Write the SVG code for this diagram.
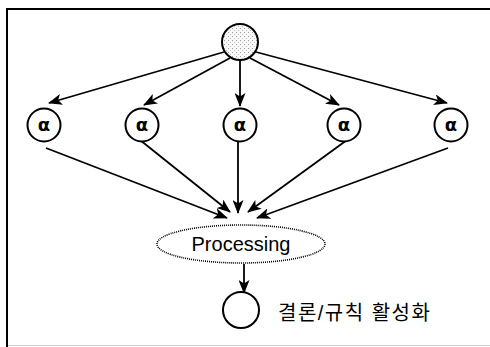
<svg xmlns="http://www.w3.org/2000/svg" width="490" height="347" viewBox="0 0 490 347">
  <style>
    .node { fill: #fff; stroke: #000; stroke-width: 2; }
    .alpha { font-family: "DejaVu Sans", "Liberation Sans", sans-serif; font-size: 18px; font-weight: bold; text-anchor: middle; fill: #000; }
    .edge { stroke: #000; stroke-width: 1.8; fill: none; marker-end: url(#arrow); }
    .label { font-family: "Liberation Sans", Arial, sans-serif; font-size: 20px; fill: #000; }
    .klabel { font-family: "Liberation Sans", "Noto Sans CJK KR", sans-serif; font-size: 20px; letter-spacing: 1.5px; fill: #000; }
  </style>
  <defs>
    <marker id="arrow" viewBox="0 0 14 11" refX="13" refY="5.5" markerWidth="14" markerHeight="11" markerUnits="userSpaceOnUse" orient="auto">
      <path d="M0,0 L14,5.5 L0,11 L3.5,5.5 z" fill="#000"/>
    </marker>
    <pattern id="stipple" width="4" height="4" patternUnits="userSpaceOnUse">
      <rect width="4" height="4" fill="#f8f8f8"/>
      <rect x="0" y="0" width="1" height="1" fill="#999"/>
      <rect x="2" y="2" width="1" height="1" fill="#c4c4c4"/>
    </pattern>
  </defs>

  <!-- frame -->
  <g id="frame">
    <line x1="6" y1="9" x2="490" y2="9" stroke="#000" stroke-width="2"/>
    <line x1="7" y1="10" x2="7" y2="347" stroke="#000" stroke-width="2"/>
    <line x1="8" y1="345.5" x2="490" y2="345.5" stroke="#d0d0d0" stroke-width="1"/>
  </g>

  <!-- connectors -->
  <g id="connectors">
    <line class="edge" x1="224" y1="52" x2="49" y2="103"/>
    <line class="edge" x1="230" y1="58" x2="144" y2="105"/>
    <line class="edge" x1="240" y1="61" x2="240" y2="106"/>
    <line class="edge" x1="250" y1="58" x2="339" y2="105"/>
    <line class="edge" x1="256" y1="52" x2="447" y2="103"/>

    <line class="edge" x1="46" y1="148" x2="227" y2="218"/>
    <line class="edge" x1="140" y1="140" x2="230" y2="212"/>
    <line class="edge" x1="238" y1="141" x2="238" y2="213"/>
    <line class="edge" x1="347" y1="140" x2="248" y2="212"/>
    <line class="edge" x1="448" y1="148" x2="257" y2="218"/>

    <line class="edge" x1="244" y1="264" x2="244" y2="293"/>
  </g>

  <!-- source node -->
  <g id="source">
    <circle cx="240" cy="42" r="18" fill="url(#stipple)" stroke="#000" stroke-width="2"/>
  </g>

  <!-- alpha nodes -->
  <g id="alpha1">
    <circle class="node" cx="44" cy="125" r="16.5"/>
    <text class="alpha" x="44" y="131">α</text>
  </g>
  <g id="alpha2">
    <circle class="node" cx="142" cy="125" r="16.5"/>
    <text class="alpha" x="142" y="131">α</text>
  </g>
  <g id="alpha3">
    <circle class="node" cx="240" cy="125" r="16.5"/>
    <text class="alpha" x="240" y="131">α</text>
  </g>
  <g id="alpha4">
    <circle class="node" cx="344" cy="125" r="16.5"/>
    <text class="alpha" x="344" y="131">α</text>
  </g>
  <g id="alpha5">
    <circle class="node" cx="451" cy="125" r="16.5"/>
    <text class="alpha" x="451" y="131">α</text>
  </g>

  <!-- processing -->
  <g id="processing">
    <ellipse cx="241" cy="244" rx="84" ry="19" fill="#fff" stroke="#000" stroke-width="1.6" stroke-dasharray="1 1"/>
    <text class="label" x="241" y="251" text-anchor="middle">Processing</text>
  </g>

  <!-- result -->
  <g id="result">
    <circle class="node" cx="241" cy="310" r="18"/>
    <text class="klabel" x="278" y="320">결론/규칙 활성화</text>
  </g>
</svg>
